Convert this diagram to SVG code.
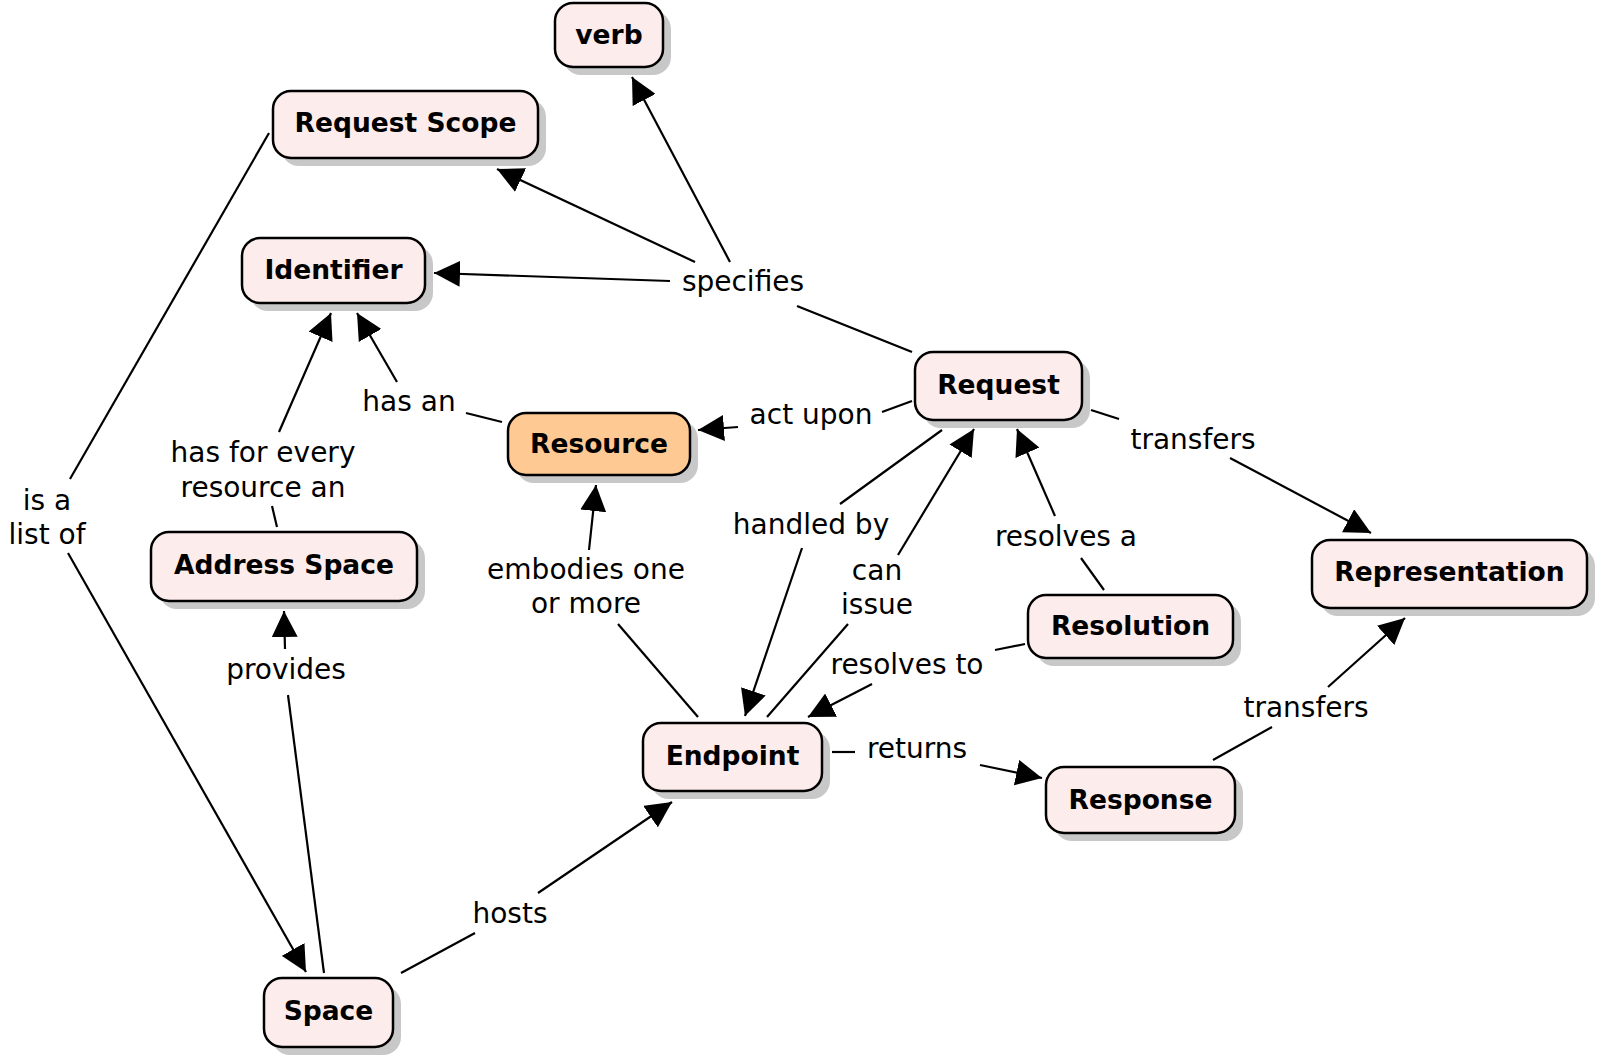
<svg xmlns="http://www.w3.org/2000/svg" width="1600" height="1061" viewBox="0 0 1600 1061">
<defs>
<marker id="arr" viewBox="0 0 26 26" refX="26" refY="13" markerWidth="26" markerHeight="26" orient="auto" markerUnits="userSpaceOnUse">
<path d="M0,0 L26,13 L0,26 z" fill="#000"/>
</marker>
</defs>
<style>
.sh{fill:#c8c8c8;}
.box{fill:#fcecec;stroke:#000;stroke-width:2.5;}
.res{fill:#ffc993;stroke:#000;stroke-width:2.5;}
.nt{font-family:"DejaVu Sans",sans-serif;font-weight:bold;font-size:26.5px;text-anchor:middle;fill:#000;}
.lt{font-family:"DejaVu Sans",sans-serif;font-size:28px;text-anchor:middle;fill:#000;}
.c line{stroke:#000;stroke-width:2.2;fill:none;}
.c line.a{marker-end:url(#arr);}
</style>
<rect width="1600" height="1061" fill="#fff"/>

<g id="connectors" class="c">
<line x1="912" y1="352" x2="797" y2="306"/>
<line class="a" x1="730" y1="262" x2="632" y2="77"/>
<line class="a" x1="695" y1="262" x2="497" y2="169"/>
<line class="a" x1="670" y1="281" x2="434" y2="273"/>
<line x1="912" y1="401" x2="882" y2="412"/>
<line class="a" x1="738" y1="427" x2="698" y2="430"/>
<line x1="502" y1="422" x2="466" y2="413"/>
<line class="a" x1="397" y1="382" x2="357" y2="313"/>
<line x1="277" y1="527" x2="272" y2="506"/>
<line class="a" x1="279" y1="432" x2="331" y2="313"/>
<line x1="269" y1="133" x2="70" y2="479"/>
<line class="a" x1="68" y1="553" x2="306" y2="972"/>
<line x1="324" y1="973" x2="288" y2="695"/>
<line class="a" x1="285" y1="649" x2="284" y2="611"/>
<line x1="401" y1="973" x2="475" y2="933"/>
<line class="a" x1="538" y1="893" x2="672" y2="802"/>
<line x1="698" y1="717" x2="618" y2="624"/>
<line class="a" x1="589" y1="550" x2="596" y2="485"/>
<line x1="942" y1="430" x2="840" y2="504"/>
<line class="a" x1="802" y1="548" x2="745" y2="716"/>
<line x1="767" y1="717" x2="848" y2="624"/>
<line class="a" x1="898" y1="555" x2="974" y2="429"/>
<line x1="1025" y1="644" x2="995" y2="650"/>
<line class="a" x1="872" y1="684" x2="808" y2="717"/>
<line x1="1104" y1="590" x2="1081" y2="558"/>
<line class="a" x1="1055" y1="516" x2="1017" y2="429"/>
<line x1="1091" y1="410" x2="1119" y2="419"/>
<line class="a" x1="1230" y1="458" x2="1371" y2="533"/>
<line x1="832" y1="752" x2="855" y2="752"/>
<line class="a" x1="980" y1="765" x2="1042" y2="778"/>
<line x1="1213" y1="760" x2="1272" y2="727"/>
<line class="a" x1="1328" y1="687" x2="1405" y2="618"/>
</g>

<g id="labels">
<text class="lt" x="743" y="291">specifies</text>
<text class="lt" x="811" y="424">act upon</text>
<text class="lt" x="409" y="411">has an</text>
<text class="lt" x="263" y="462">has for every</text>
<text class="lt" x="263" y="497">resource an</text>
<text class="lt" x="47" y="510">is a</text>
<text class="lt" x="47" y="544">list of</text>
<text class="lt" x="286" y="679">provides</text>
<text class="lt" x="586" y="579">embodies one</text>
<text class="lt" x="586" y="613">or more</text>
<text class="lt" x="811" y="534">handled by</text>
<text class="lt" x="877" y="580">can</text>
<text class="lt" x="877" y="614">issue</text>
<text class="lt" x="907" y="674">resolves to</text>
<text class="lt" x="1066" y="546">resolves a</text>
<text class="lt" x="1193" y="449">transfers</text>
<text class="lt" x="1306" y="717">transfers</text>
<text class="lt" x="917" y="758">returns</text>
<text class="lt" x="510" y="923">hosts</text>
</g>

<g id="node-verb">
<rect class="sh" x="563" y="11" width="108" height="64" rx="18"/>
<rect class="box" x="555" y="3" width="108" height="64" rx="18"/>
<text class="nt" x="609" y="44">verb</text>
</g>
<g id="node-request-scope">
<rect class="sh" x="281" y="99" width="265" height="67" rx="18"/>
<rect class="box" x="273" y="91" width="265" height="67" rx="18"/>
<text class="nt" x="405.5" y="131.5">Request Scope</text>
</g>
<g id="node-identifier">
<rect class="sh" x="250" y="246" width="183" height="65" rx="18"/>
<rect class="box" x="242" y="238" width="183" height="65" rx="18"/>
<text class="nt" x="333.5" y="279">Identifier</text>
</g>
<g id="node-request">
<rect class="sh" x="923" y="360" width="167" height="68" rx="18"/>
<rect class="box" x="915" y="352" width="167" height="68" rx="18"/>
<text class="nt" x="998.5" y="394">Request</text>
</g>
<g id="node-resource">
<rect class="sh" x="516" y="421" width="182" height="62" rx="18"/>
<rect class="res" x="508" y="413" width="182" height="62" rx="18"/>
<text class="nt" x="599" y="453">Resource</text>
</g>
<g id="node-address-space">
<rect class="sh" x="159" y="540" width="266" height="69" rx="18"/>
<rect class="box" x="151" y="532" width="266" height="69" rx="18"/>
<text class="nt" x="284" y="573.5">Address Space</text>
</g>
<g id="node-representation">
<rect class="sh" x="1320" y="548" width="275" height="68" rx="18"/>
<rect class="box" x="1312" y="540" width="275" height="68" rx="18"/>
<text class="nt" x="1449.5" y="581">Representation</text>
</g>
<g id="node-resolution">
<rect class="sh" x="1036" y="603" width="205" height="63" rx="18"/>
<rect class="box" x="1028" y="595" width="205" height="63" rx="18"/>
<text class="nt" x="1130.5" y="635">Resolution</text>
</g>
<g id="node-endpoint">
<rect class="sh" x="651" y="731" width="179" height="68" rx="18"/>
<rect class="box" x="643" y="723" width="179" height="68" rx="18"/>
<text class="nt" x="732.5" y="765">Endpoint</text>
</g>
<g id="node-response">
<rect class="sh" x="1054" y="775" width="189" height="66" rx="18"/>
<rect class="box" x="1046" y="767" width="189" height="66" rx="18"/>
<text class="nt" x="1140.5" y="808.5">Response</text>
</g>
<g id="node-space">
<rect class="sh" x="272" y="986" width="129" height="69" rx="18"/>
<rect class="box" x="264" y="978" width="129" height="69" rx="18"/>
<text class="nt" x="328.5" y="1019.5">Space</text>
</g>
</svg>
